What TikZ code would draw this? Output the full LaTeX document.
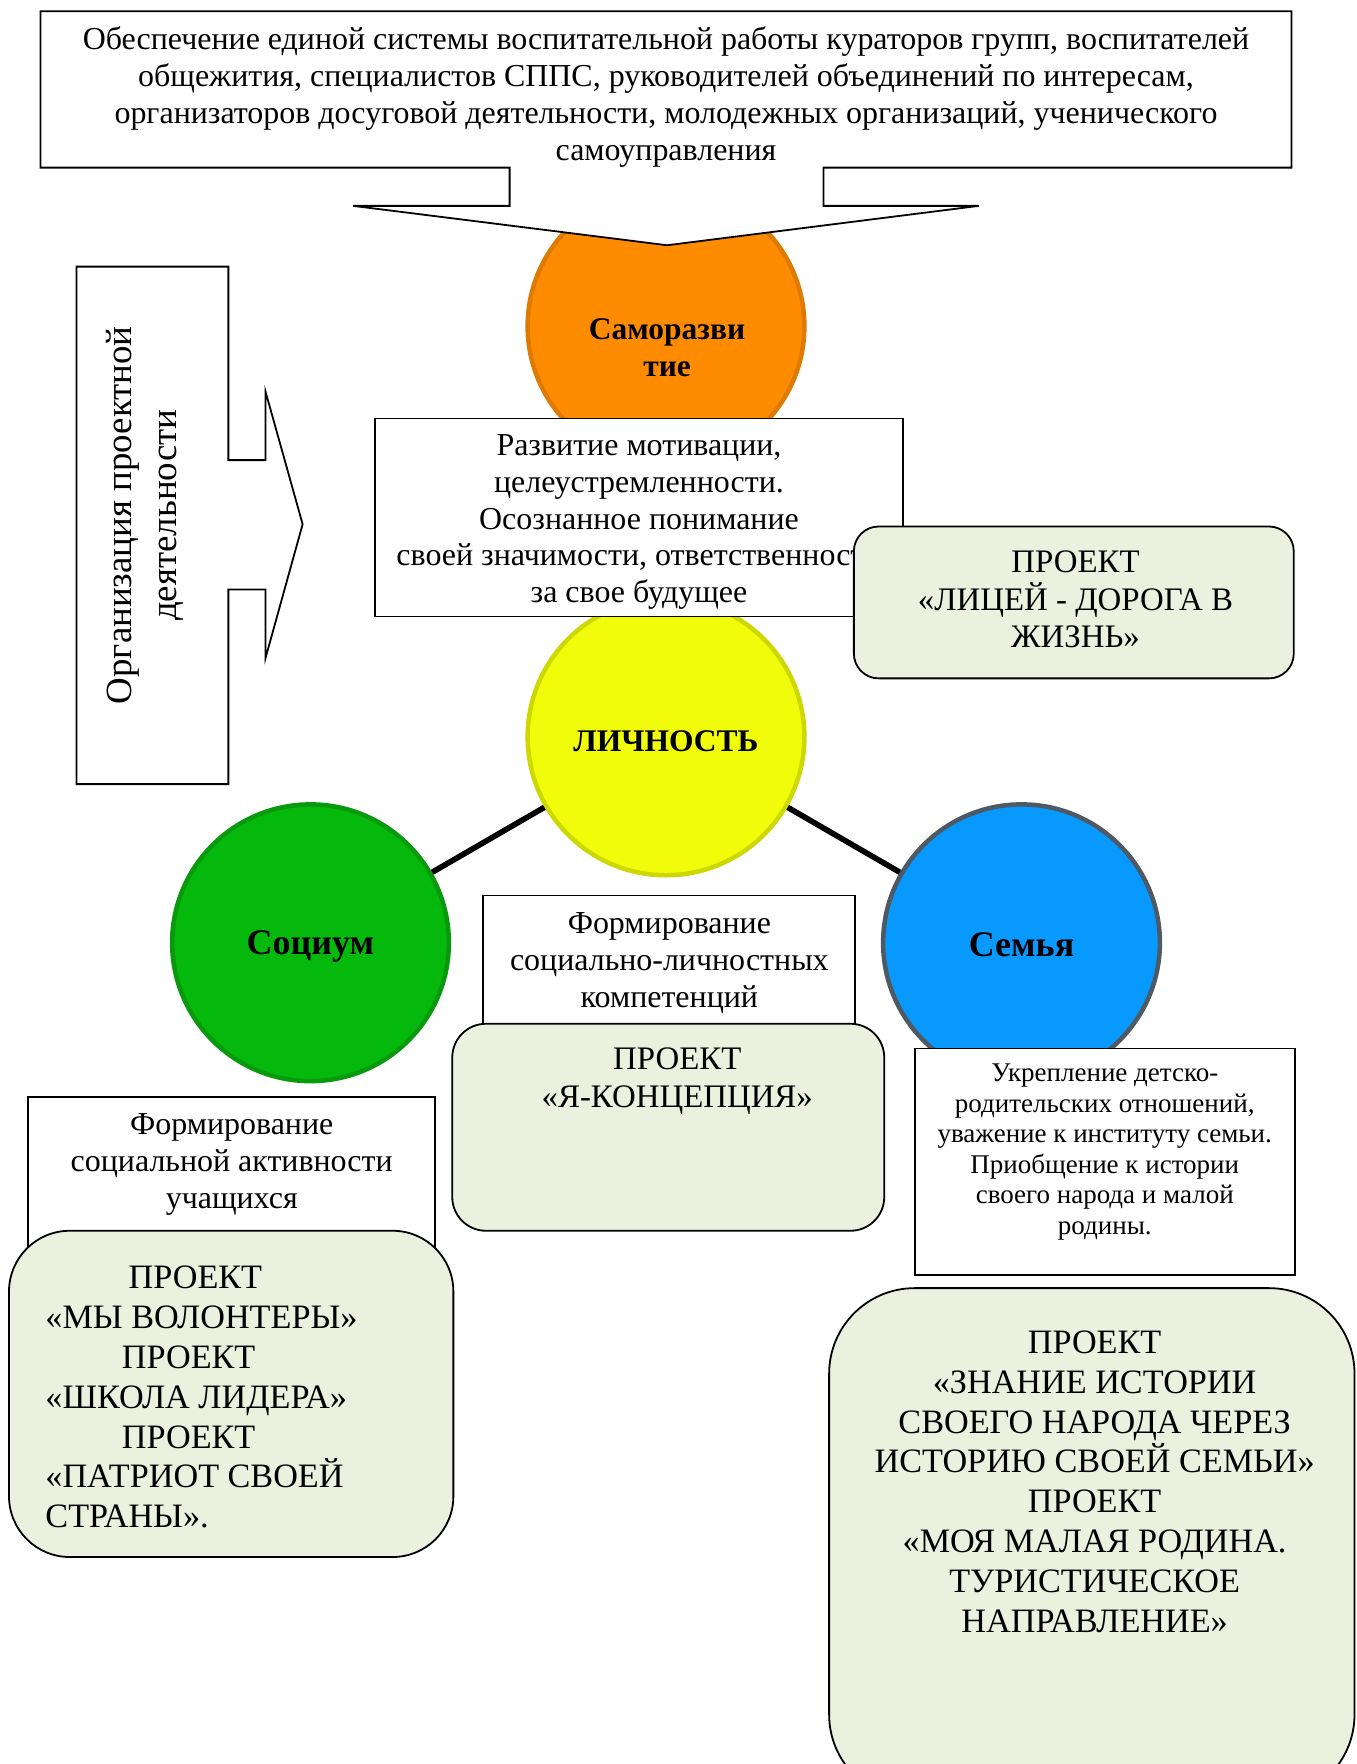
\documentclass[tikz,border=0pt]{standalone}
\usepackage{fontspec}
\setmainfont{Liberation Serif}
\usepackage{tikz}

\definecolor{projfill}{HTML}{EBF1DE}
\definecolor{orgfill}{HTML}{FF8C00}
\definecolor{orgline}{HTML}{DD7A00}
\definecolor{yelfill}{HTML}{F0FC0A}
\definecolor{yelline}{HTML}{CCD800}
\definecolor{grnfill}{HTML}{04B80C}
\definecolor{grnline}{HTML}{089A0C}
\definecolor{blufill}{HTML}{0899FF}
\definecolor{bluline}{HTML}{4D5963}

\tikzset{
    callout/.style = {draw, fill=white, line width=0.8pt, line join=miter},
    txtbox/.style = {draw, fill=white, line width=0.8pt},
    projbox/.style = {draw, fill=projfill, line width=0.8pt, rounded corners=#1},
    circ/.style = {circle, minimum size=123pt, line width=2pt, inner sep=0},
    circtxt/.style = {inner sep=0, font=\fontsize{#1}{16.4}\selectfont\bfseries},
    txt/.style = {align=center, inner sep=0, font=\fontsize{14.2}{16.4}\selectfont},
    smalltxt/.style = {align=center, inner sep=0, font=\fontsize{12}{13.6}\selectfont},
    projtxt/.style = {align=center, inner sep=0, font=\fontsize{15.2}{17.7}\selectfont},
    conn/.style = {line width=2.5pt}
}

\begin{document}
\begin{tikzpicture}[x=0.5pt, y=-0.5pt]
    \fill[white] (0, 0) rectangle (1206, 1568);
    \useasboundingbox (0, 0) rectangle (1206, 1568);

    % circles
    \node[circ, fill=orgfill, draw=orgline] (samo) at (592, 290) {};
    \node[circ, fill=yelfill, draw=yelline] (lich) at (592, 655) {};
    \node[circ, fill=grnfill, draw=grnline] (soc) at (276, 838) {};
    \node[circ, fill=blufill, draw=bluline] (sem) at (908, 838) {};
    \draw[conn] (lich) -- (soc);
    \draw[conn] (lich) -- (sem);
    \node[circtxt=14, align=center] (samoTxt) at (593, 309) {Саморазви\\тие};
    \node[circtxt=14] (lichTxt) at (592, 659) {ЛИЧНОСТЬ};
    \node[circtxt=16] (socTxt) at (276, 841) {Социум};
    \node[circtxt=16] (semTxt) at (908, 840) {Семья};

    % top callout
    \draw[callout] (36, 10) -- (1148, 10) -- (1148, 149) -- (732, 149)
        -- (732, 183) -- (870, 183) -- (593, 218) -- (314, 183)
        -- (453, 183) -- (453, 149) -- (36, 149) -- cycle;
    \node[txt] (topTxt) at (592, 86) {Обеспечение единой системы воспитательной работы кураторов групп, воспитателей\\
        общежития, специалистов СППС, руководителей объединений по интересам,\\
        организаторов досуговой деятельности, молодежных организаций, ученического\\
        самоуправления};

    % left callout
    \draw[callout] (68, 237) -- (203, 237) -- (203, 409) -- (236, 409)
        -- (236, 348) -- (269, 466) -- (236, 585) -- (236, 524)
        -- (203, 524) -- (203, 697) -- (68, 697) -- cycle;
    \node[align=center, inner sep=0, rotate=90, font=\fontsize{16.4}{20}\selectfont]
        (leftTxt) at (129, 458) {Организация проектной\\деятельности};

    % upper boxes
    \draw[txtbox] (333, 372) rectangle (803, 548);
    \node[txt] (razvTxt) at (568, 464) {Развитие мотивации,\\целеустремленности.\\
        Осознанное понимание\\своей значимости, ответственности\\за свое будущее};
    \draw[projbox=11pt] (759, 468) rectangle (1150, 603);
    \node[projtxt, font=\fontsize{14.6}{16.6}\selectfont] (liceyTxt) at (956, 533)
        {ПРОЕКТ\\«ЛИЦЕЙ - ДОРОГА В\\ЖИЗНЬ»};

    % middle boxes
    \draw[txtbox] (429, 796) rectangle (760, 910);
    \node[txt] (kompTxt) at (595, 856) {Формирование\\социально-личностных\\компетенций};
    \draw[projbox=15pt] (402, 910) rectangle (786, 1094);
    \node[projtxt, font=\fontsize{14.6}{17}\selectfont] (yaTxt) at (602, 961)
        {ПРОЕКТ\\«Я-КОНЦЕПЦИЯ»};

    % left boxes
    \draw[txtbox] (25, 975) rectangle (387, 1150);
    \node[txt] (aktTxt) at (206, 1035) {Формирование\\социальной активности\\учащихся};
    \draw[projbox=27pt] (8, 1094) rectangle (403, 1384);
    \node[projtxt, align=left, anchor=west] (volTxt) at (40, 1242)
        {\hspace*{37pt}ПРОЕКТ\\«МЫ ВОЛОНТЕРЫ»\\\hspace*{34pt}ПРОЕКТ\\«ШКОЛА ЛИДЕРА»\\
        \hspace*{34pt}ПРОЕКТ\\«ПАТРИОТ СВОЕЙ\\СТРАНЫ».};

    % right boxes
    \draw[txtbox] (813, 932) rectangle (1151, 1133);
    \node[smalltxt] (ukrTxt) at (982, 1024) {Укрепление детско-\\родительских отношений,\\
        уважение к институту семьи.\\Приобщение к истории\\своего народа и малой\\родины.};
    \draw[projbox=38pt] (737, 1145) rectangle (1204, 1600);
    \node[projtxt] (istTxt) at (973, 1317) {ПРОЕКТ\\«ЗНАНИЕ ИСТОРИИ\\СВОЕГО НАРОДА ЧЕРЕЗ\\
        ИСТОРИЮ СВОЕЙ СЕМЬИ»\\ПРОЕКТ\\«МОЯ МАЛАЯ РОДИНА.\\ТУРИСТИЧЕСКОЕ\\НАПРАВЛЕНИЕ»};
\end{tikzpicture}
\end{document}
